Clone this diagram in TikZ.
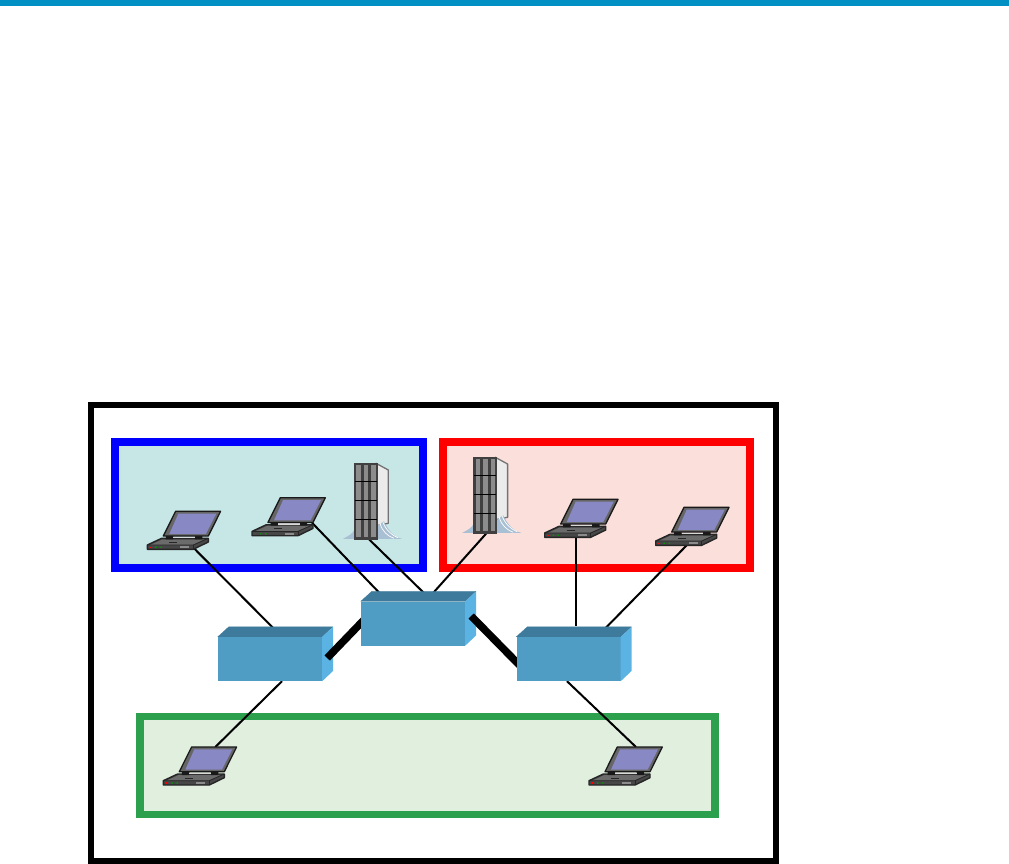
\documentclass[tikz,border=0pt]{standalone}
\usepackage{tikz}
\usetikzlibrary{calc}
\definecolor{topbar}{HTML}{0090C4}
\definecolor{bluefill}{HTML}{C7E7E6}
\definecolor{redfill}{HTML}{FBDFDB}
\definecolor{greenfill}{HTML}{E0EFDE}
\definecolor{greenline}{HTML}{2CA04D}
\definecolor{swfront}{HTML}{4F9CC5}
\definecolor{swtop}{HTML}{3E7A9B}
\definecolor{swside}{HTML}{5BB3E3}
\definecolor{lapscreen}{HTML}{8888C4}
\definecolor{standblue}{HTML}{A9BFD3}
\pgfdeclarelayer{back}
\pgfdeclarelayer{edges}
\pgfdeclarelayer{mid}
\pgfdeclarelayer{front}
\pgfsetlayers{back,edges,main,mid,front}
\tikzset{
    area/.style={line width=#1, miter limit=10},
    switchbox/.style={rectangle, fill=swfront, minimum width=104pt, minimum height=44pt, inner sep=0pt},
    link/.style={line width=2pt},
    trunk/.style={line width=7.5pt},
    laptop/.pic={
        \draw[black!85,line width=1.4pt,fill=black!72,line join=round] (0,-4.3) -- (0,0) -- (46,0) -- (61,-7.3) -- (61,-11) -- (14.3,-11) -- cycle;
        \fill[black!58] (3,-4.3) -- (15,-9.8) -- (57,-9.8) -- (45,-4.3) -- cycle;
        \draw[black!85,line width=.8pt] (0,-4.3) -- (46,-4.3) -- (61,-11);
        \draw[black!85,line width=.8pt] (46,-4.3) -- (46,0);
        \draw[black!85,line width=.7pt] (22,-7) -- (30,-7);
        \fill[red] (2.5,-2.6) rectangle (4,-1.4);
        \fill[green!60!black] (8,-2.6) rectangle (9.5,-1.4) (13,-2.6) rectangle (14.5,-1.4);
        \fill[black!45] (33,-3) rectangle (42,-1.2);
        \fill[black!90] (18.5,-10) rectangle (26,-13.5) (47.5,-10) rectangle (55,-13.5);
        \fill[black!15] (26,-11) rectangle (47.5,-12.5);
        \draw[black!90,line width=1.3pt,fill=black!60,line join=round] (16,-13.3) -- (28.3,-38) -- (73.3,-38) -- (61,-13.3) -- cycle;
        \fill[lapscreen] (22,-15.3) -- (31,-35.6) -- (69,-35.6) -- (58.6,-15.3) -- cycle;
        \coordinate (-port) at (44.7,-3);
        \coordinate (-hinge) at (60,-13);
        \coordinate (-base) at (31,0);
        \coordinate (-lid) at (52,-38);
        \coordinate (-lidmid) at (47,-38);
    },
    rack/.pic={
        \fill[standblue] (-11,-.5) .. controls (-6,-3) and (-1,-6) .. (0,-9) -- (24,-14) -- (30,-18)
            .. controls (33,-10) and (40,-2) .. (47.5,-.5) -- cycle;
        \draw[black!55,line width=1.3pt,fill=black!8,line join=round] (22,-76) -- (34.3,-69.3) -- (34.3,-16) -- (24,-14) -- (22,0) -- cycle;
        \fill[standblue] (24,-14) -- (30,-18) .. controls (33,-10) and (40,-2) .. (47.5,-.5) -- (23,-.5) -- cycle;
        \draw[white,line width=.7pt] (26,-16) .. controls (28,-8) and (34,-3) .. (40,-1);
        \draw[white,line width=.7pt] (29,-17) .. controls (32,-9) and (38,-4) .. (44,-1.5);
        \fill[black!75] (-.5,0.3) rectangle (23.5,-76.7);
        \foreach \x in {2.2,9.7,17.2}
            \fill[black!45] (\x,-2) rectangle (\x+4.6,-74.7);
        \foreach \y in {-20.3,-39.3,-57.7}
            \draw[black,line width=.9pt] (1,\y) -- (23,\y);
        \coordinate (-port) at (14,-1);
    }
}
\newcommand{\swfaces}[1]{
    \fill[swtop,draw=swtop,line width=.3pt] (#1.north west) -- ++(11,-10) -- ++(104,0) -- (#1.north east) -- cycle;
    \fill[swside] (#1.north east) -- ++(11,-10) -- ++(0,44) -- (#1.south east) -- cycle;
}

\begin{document}
\begin{tikzpicture}[x=1pt,y=-1pt]
        \useasboundingbox (0,0) rectangle (1009,863);
        % top rule and frames
        \fill[topbar] (0,0) rectangle (1009,6);
        \begin{pgfonlayer}{back}
            \draw[area=6pt] (91,405) rectangle (776,861);
            \draw[area=8pt,blue,fill=bluefill] (115,442) rectangle (423,568);
            \draw[area=8pt,red,fill=redfill] (443,442) rectangle (750,568);
            \draw[area=7.5pt,greenline,fill=greenfill] (140,716.5) rectangle (715,814.5);
        \end{pgfonlayer}
        % hosts
        \pic (lapA) at (147.3,549.3) {laptop};
        \pic (lapB) at (252,535.7) {laptop};
        \pic (lapC) at (544.7,537.3) {laptop};
        \pic (lapD) at (655.7,545.3) {laptop};
        \pic (lapE) at (163.3,785) {laptop};
        \pic (lapF) at (589,785) {laptop};
        \pic (srvA) at (354,539.3) {rack};
        \pic (srvB) at (473.3,533.3) {rack};
        % switches
        \node[switchbox] (swA) at (270,659) {};
        \swfaces{swA}
        \begin{pgfonlayer}{mid}
            \node[switchbox] (swB) at (413,623.5) {};
            \swfaces{swB}
        \end{pgfonlayer}
        \begin{pgfonlayer}{front}
            \node[switchbox] (swC) at (568.5,659) {};
            \swfaces{swC}
        \end{pgfonlayer}
        % links
        \begin{pgfonlayer}{edges}
            \draw[link,shorten >=5pt] (lapA-port) -- ([xshift=12pt]swA.north);
            \draw[link,shorten >=5pt] (lapB-hinge) -- ([xshift=-25.5pt]swB.north);
            \draw[link,shorten >=5pt] (srvA-port) -- ([xshift=19.5pt]swB.north);
            \draw[link,shorten >=5pt] (srvB-port) -- ([xshift=12.7pt]swB.north);
            \draw[link,shorten >=11pt] (lapC-base) -- ([xshift=7.2pt]swC.north);
            \draw[link,shorten >=5pt] (lapD-base) -- ([xshift=28.5pt]swC.north);
            \draw[link] ([xshift=12pt]swA.south) -- (lapE-lid);
            \draw[link] ([xshift=-1.5pt]swC.south) -- (lapF-lidmid);
        \end{pgfonlayer}
        \draw[trunk] ([xshift=5pt,yshift=1pt]swA.east) -- ([xshift=4pt,yshift=4.5pt]swB.west);
        \begin{pgfonlayer}{mid}
            \draw[trunk] ([xshift=6pt,yshift=7.5pt]swB.east) -- ([xshift=4pt,yshift=-7pt]swC.west);
        \end{pgfonlayer}
\end{tikzpicture}
\end{document}
